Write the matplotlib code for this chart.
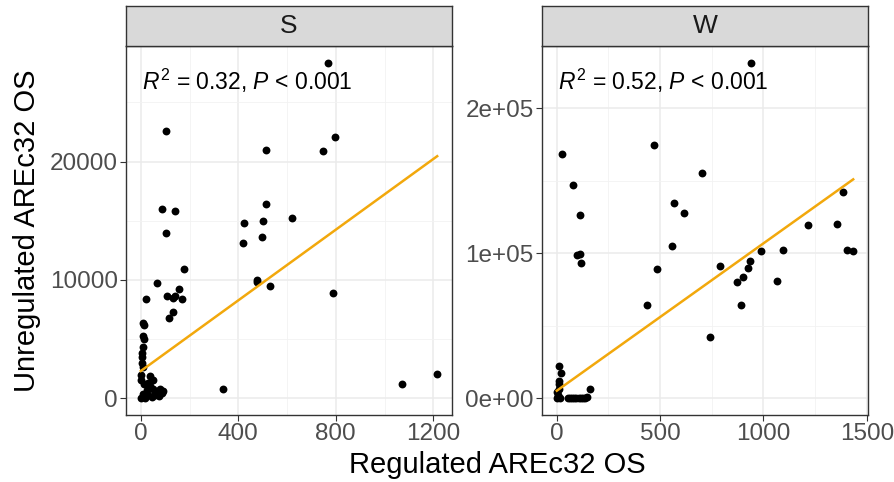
import numpy as np
import matplotlib
matplotlib.use("Agg")
import matplotlib.pyplot as plt

plt.rcParams['font.family'] = ['Liberation Sans', 'DejaVu Sans']
plt.rcParams['mathtext.fontset'] = 'custom'
plt.rcParams['mathtext.rm'] = 'Liberation Sans'
plt.rcParams['mathtext.it'] = 'Liberation Sans:italic'

# summer (S) samples: regulated vs unregulated AREc32 OS
s_reg = [769, 104, 796, 513, 748, 87, 142, 512, 425, 500, 619, 104, 499, 418,
         478, 478, 530, 787, 179, 68, 157, 106, 131, 141, 168, 22, 134, 117,
         11, 13, 8, 13, 8, 6, 6, 6, 10, 2, 2, 38, 38, 52, 79, 65, 0, 18, 45,
         339, 1072, 1216, 28, 58, 70, 85, 30, 12, 48, 60, 75, 10, 25, 90]
s_unreg = [28350, 22550, 22100, 21000, 20870, 15970, 15800, 16410, 14820,
           15015, 15210, 14000, 13600, 13110, 10030, 9860, 9500, 8880, 10920,
           9720, 9190, 8680, 8460, 8630, 8375, 8375, 7280, 6750, 6390, 6160,
           5270, 5040, 4340, 3830, 3500, 2970, 2600, 1960, 1540, 1850, 1060,
           780, 780, 500, 0, 0, 140, 756, 1176, 2016, 300, 350, 620, 450, 1300,
           1200, 1500, 250, 200, 350, 700, 600]

# winter (W) samples
w_reg = [939, 27, 469, 76, 701, 114, 568, 614, 1383, 1214, 1354, 96, 112, 117,
         555, 486, 437, 740, 788, 990, 1096, 937, 927, 899, 870, 892, 1064,
         1405, 1434, 10, 19, 10, 10, 10, 3, 0, 14, 55, 65, 75, 85, 95, 105,
         115, 125, 135, 145, 161, 8, 5]
w_unreg = [231500, 168800, 175000, 147300, 155100, 126300, 134500, 127600,
           142100, 119400, 120300, 99000, 99700, 93300, 105200, 89200, 64500,
           42100, 91500, 101600, 102300, 94700, 89700, 83900, 80300, 64500,
           81200, 102500, 101300, 22200, 17100, 11700, 9500, 6500, 4300, 0, 0,
           300, 200, 400, 300, 200, 500, 300, 400, 200, 600, 6400, 2000, 1000]

# linear model fits (intercept, slope) for each season
fit_intercept = [2300, 5200]
fit_slope = [14.93, 101.7]

panels = ['S', 'W']
stat_labels = [r'$R^2$ = 0.32, $P$ < 0.001', r'$R^2$ = 0.52, $P$ < 0.001']
x_major = [[0, 400, 800, 1200], [0, 500, 1000, 1500]]
x_minor = [[200, 600, 1000], [250, 750, 1250]]
y_major = [[0, 10000, 20000], [0, 100000, 200000]]
y_minor = [[5000, 15000, 25000], [50000, 150000]]
y_ticklabels = [['0', '10000', '20000'], ['0e+00', '1e+05', '2e+05']]

dark = '#333333'
fig = plt.figure(figsize=(8.94, 4.82), dpi=100)

lefts = [126 / 894, 542 / 894]
pw = 326 / 894
pb = (482 - 415) / 482
ph = 369 / 482
sh = 40 / 482

data = [(s_reg, s_unreg), (w_reg, w_unreg)]
for i, (xs, ys) in enumerate(data):
    xs = np.array(xs, dtype=float)
    ys = np.array(ys, dtype=float)
    ax = fig.add_axes([lefts[i], pb, pw, ph])

    # ggplot style 5% padding around the data
    xr = xs.max() - xs.min()
    yr = ys.max() - ys.min()
    ax.set_xlim(xs.min() - 0.05 * xr, xs.max() + 0.05 * xr)
    ax.set_ylim(ys.min() - 0.05 * yr, ys.max() + 0.05 * yr)

    ax.set_xticks(x_major[i])
    ax.set_xticks(x_minor[i], minor=True)
    ax.set_yticks(y_major[i])
    ax.set_yticks(y_minor[i], minor=True)
    ax.set_yticklabels(y_ticklabels[i])
    ax.grid(True, which='major', color='#EBEBEB', lw=1.1)
    ax.grid(True, which='minor', color='#F2F2F2', lw=0.6)
    ax.set_axisbelow(True)
    ax.tick_params(which='major', length=4, width=0.8, color=dark,
                   labelsize=17.5, labelcolor='#4D4D4D', pad=2)
    ax.tick_params(which='minor', length=0)
    for sp in ax.spines.values():
        sp.set_color(dark)
        sp.set_linewidth(1.0)

    ax.scatter(xs, ys, s=32, color='black', zorder=3, linewidths=0)

    # regression line over the data range
    lx = np.array([xs.min(), xs.max()])
    ax.plot(lx, fit_intercept[i] + fit_slope[i] * lx, color='#F2A80C',
            lw=1.8, zorder=4)

    ax.text(0.05, 0.905, stat_labels[i], transform=ax.transAxes,
            fontsize=16.5, va='center', ha='left', color='black')

    # facet strip
    st = fig.add_axes([lefts[i], pb + ph, pw, sh])
    st.set_facecolor('#D9D9D9')
    st.set_xticks([])
    st.set_yticks([])
    for sp in st.spines.values():
        sp.set_color(dark)
        sp.set_linewidth(1.0)
    st.text(0.5, 0.5, panels[i], transform=st.transAxes, ha='center',
            va='center', fontsize=19, color='#1A1A1A')

fig.text(0.5 * (lefts[0] + lefts[1] + pw), 0.035, 'Regulated AREc32 OS',
         ha='center', va='center', fontsize=21)
fig.text(0.03, pb + ph / 2, 'Unregulated AREc32 OS', ha='center',
         va='center', rotation=90, fontsize=21)

fig.savefig('out.png', dpi=100)
